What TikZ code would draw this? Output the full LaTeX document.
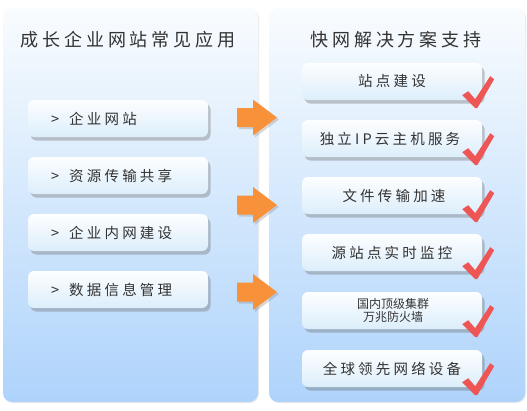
\documentclass[tikz,border=0pt]{standalone}
\usepackage{fontspec}
\newfontfamily\cjktitle[LetterSpace=22]{Noto Sans CJK SC}
\newfontfamily\cjkbtn[LetterSpace=22]{Noto Sans CJK SC}
\newfontfamily\cjksmall{Noto Sans CJK SC}
\usetikzlibrary{shadows}
\definecolor{panelTop}{HTML}{F9FCFE}
\definecolor{panelBot}{HTML}{AED3FB}
\definecolor{btnTop}{HTML}{FDFEFF}
\definecolor{btnBot}{HTML}{DCEEFB}
\definecolor{arrowOrange}{HTML}{F7923A}
\definecolor{checkRed}{HTML}{EE5555}
\definecolor{txt}{HTML}{333333}
\tikzset{
  panel/.style={rounded corners=9pt, top color=panelTop, bottom color=panelBot, draw=none,
    drop shadow={shadow xshift=1pt, shadow yshift=-1pt, opacity=0.15, fill=gray}},
  btn/.style={rounded corners=6pt, top color=btnTop, bottom color=btnBot, draw=none,
    minimum width=180pt, minimum height=37pt, inner sep=0pt,
    drop shadow={shadow xshift=2.5pt, shadow yshift=-3.5pt, opacity=0.35, fill=gray!80!black}},
  ttl/.style={font=\cjktitle\fontsize{18}{20}\selectfont, text=txt, inner sep=0pt},
  btntext/.style={font=\cjkbtn\fontsize{14.5}{16}\selectfont, text=txt, inner sep=0pt},
  smalltext/.style={font=\cjksmall\fontsize{12}{13.5}\selectfont, text=txt, inner sep=0pt, align=center},
  orangearrow/.style={fill=arrowOrange, draw=none,
    drop shadow={shadow xshift=2pt, shadow yshift=-2pt, opacity=0.3, fill=gray}},
  checkmark/.style={fill=checkRed, draw=none}
}
\begin{document}
\begin{tikzpicture}[x=1pt,y=-1pt]
\useasboundingbox[fill=white] (0,0) rectangle (527,410);
% panels
\path[panel] (3,8) rectangle (258,402);
\path[panel] (269,8) rectangle (525,402);
% titles
\node[ttl] (tl) at (128,40) {成长企业网站常见应用};
\node[ttl] (tr) at (396,40) {快网解决方案支持};
% left buttons
\node[btn] (l1) at (118,118.5) {};
\node[btn] (l2) at (118,175.5) {};
\node[btn] (l3) at (118,232.5) {};
\node[btn] (l4) at (118,289.5) {};
\node[btntext, anchor=west] (lt1) at (51,118.5) {>\hspace{10pt}企业网站};
\node[btntext, anchor=west] (lt2) at (51,175.5) {>\hspace{10pt}资源传输共享};
\node[btntext, anchor=west] (lt3) at (51,232.5) {>\hspace{10pt}企业内网建设};
\node[btntext, anchor=west] (lt4) at (51,289.5) {>\hspace{10pt}数据信息管理};
% right buttons
\node[btn] (r1) at (392,81.5) {};
\node[btn] (r2) at (392,138.5) {};
\node[btn] (r3) at (392,195.5) {};
\node[btn] (r4) at (392,252.5) {};
\node[btn] (r5) at (392,310.5) {};
\node[btn] (r6) at (392,368.5) {};
\node[btntext] (rt1) at (392,81) {站点建设};
\node[btntext] (rt2) at (390,138.5) {独立IP云主机服务};
\node[btntext] (rt3) at (394,195.5) {文件传输加速};
\node[btntext] (rt4) at (392,252.5) {源站点实时监控};
\node[smalltext] (rt5) at (393,310.5) {国内顶级集群\\万兆防火墙};
\node[btntext] (rt6) at (392,368.5) {全球领先网络设备};
% arrows
\coordinate (a1) at (237,117.5);
\coordinate (a2) at (237,205);
\coordinate (a3) at (237,292);
\foreach \a in {a1,a2,a3}{
  \path[orangearrow] ([shift={(0,-9.5)}]\a) -- ([shift={(16,-9.5)}]\a) -- ([shift={(16,-18)}]\a)
    -- ([shift={(40,0)}]\a) -- ([shift={(16,18)}]\a) -- ([shift={(16,9.5)}]\a)
    -- ([shift={(0,9.5)}]\a) -- cycle;
}
% check marks
\foreach \n in {r1,r2,r3,r4,r5,r6}{
  \fill[checkmark] ([shift={(-20,-5)}]\n.south east) -- ([shift={(-14,-9)}]\n.south east)
    -- ([shift={(-7,-1)}]\n.south east) -- ([shift={(8,-24)}]\n.south east)
    -- ([shift={(12,-21)}]\n.south east) -- ([shift={(-5,8)}]\n.south east)
    -- ([shift={(-7,8)}]\n.south east) -- cycle;
}
\end{tikzpicture}
\end{document}
